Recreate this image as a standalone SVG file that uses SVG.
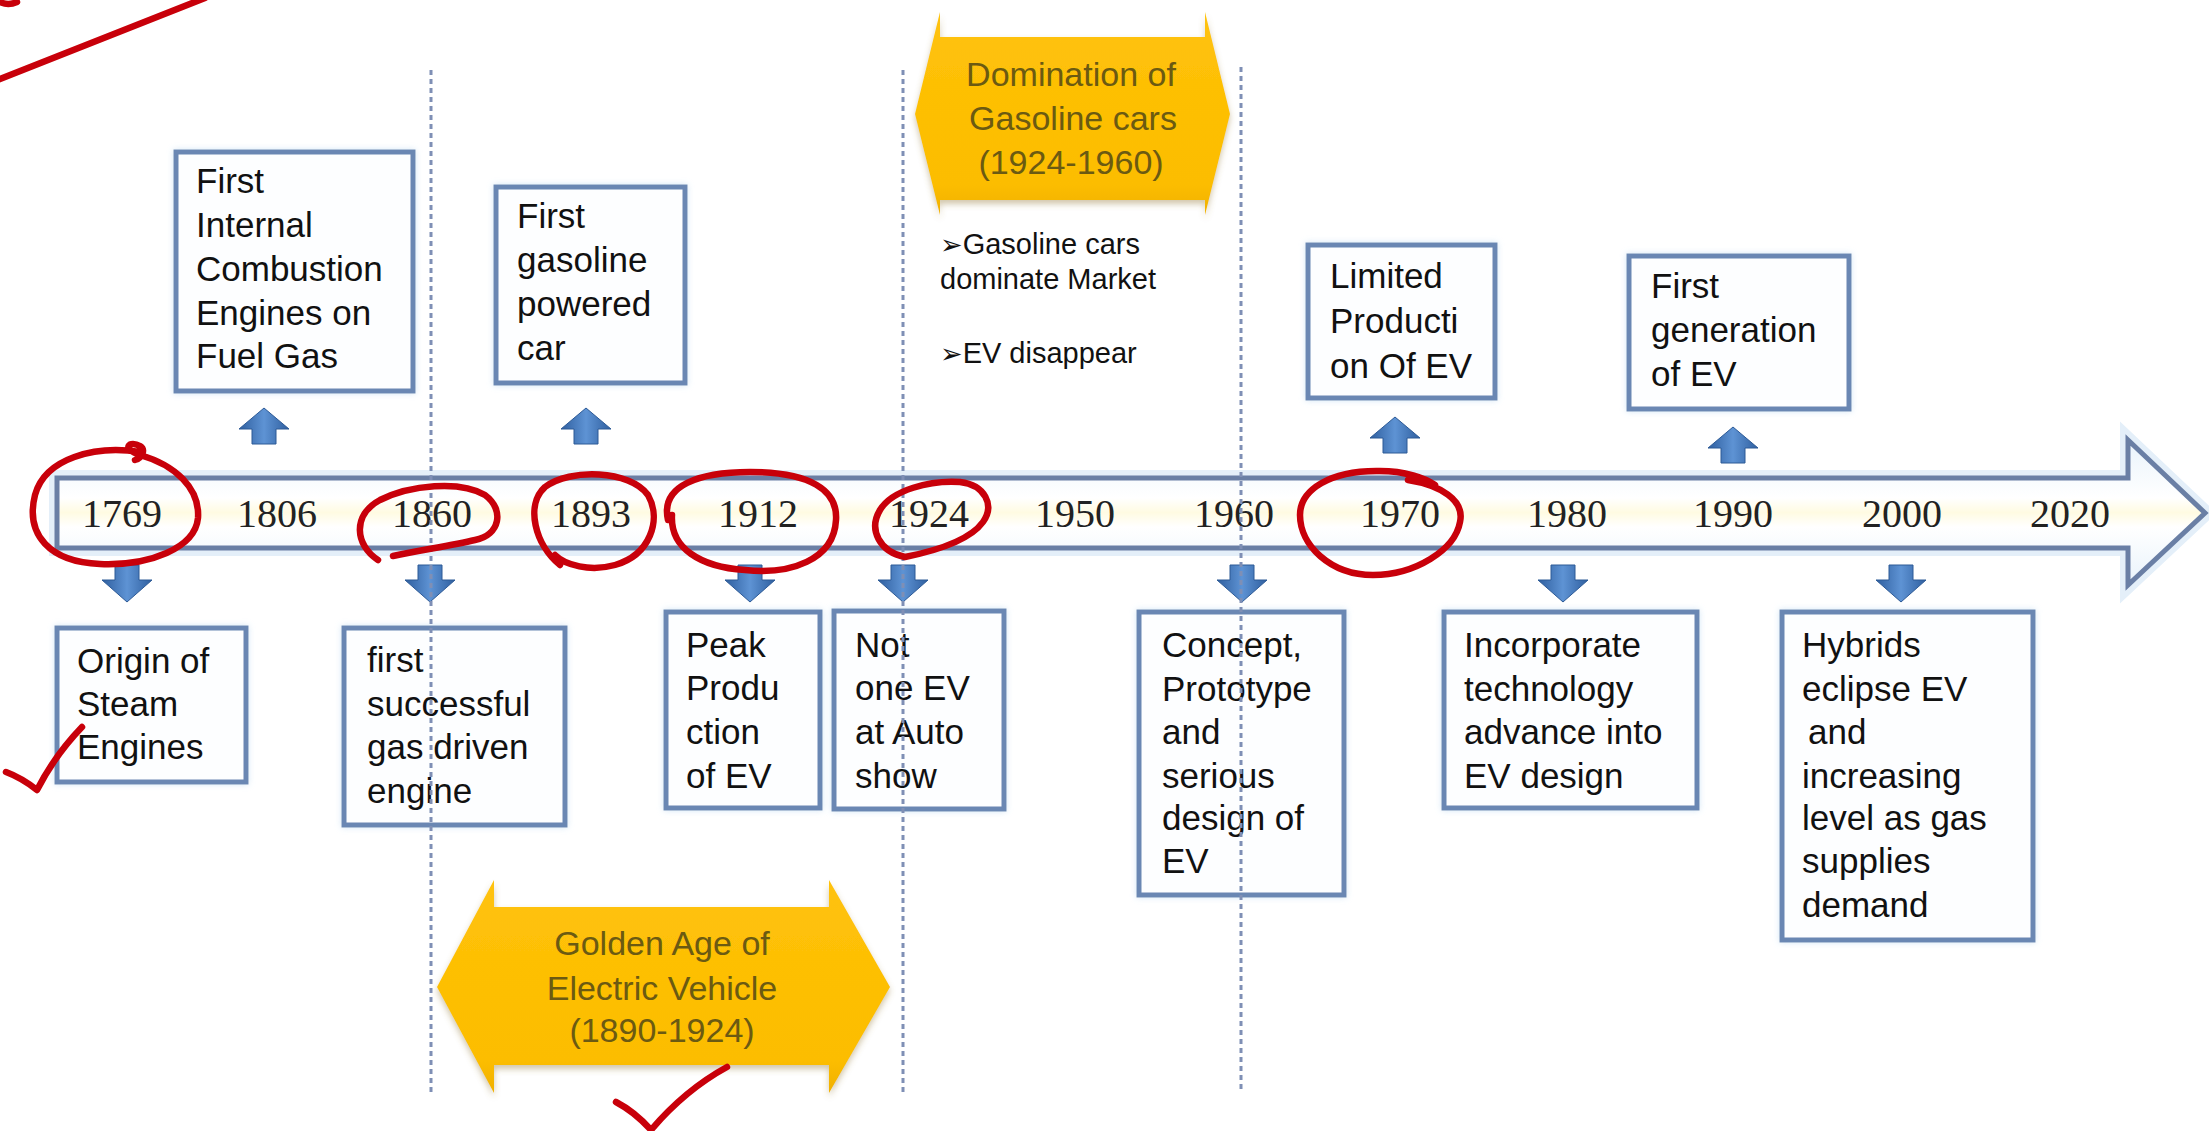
<svg xmlns="http://www.w3.org/2000/svg" xmlns:xlink="http://www.w3.org/1999/xlink" width="2209" height="1131" viewBox="0 0 2209 1131">
<defs>
<style>
.bx{font-family:"Liberation Sans",Arial,sans-serif;font-size:35px;fill:#111}
.yr{font-family:"Liberation Serif","Times New Roman",serif;font-size:40px;fill:#222;text-anchor:middle}
.ban{font-family:"Liberation Sans",Arial,sans-serif;font-size:34px;fill:#6b5a12;text-anchor:middle}
.bul{font-family:"Liberation Sans",Arial,sans-serif;font-size:29px;fill:#111}
.blt{font-family:"DejaVu Sans",sans-serif;font-size:27px}
.box{fill:#fdfeff;stroke:#6a87b3;stroke-width:5;filter:url(#glow)}
.arr{fill:url(#arrG);stroke:#2d5a96;stroke-width:1}
.div{stroke:#7f8fb5;stroke-width:3;stroke-dasharray:5 4;fill:none}
.banner{fill:url(#gold);filter:url(#bshadow)}
.red{fill:none;stroke:#c8000a;stroke-width:6.5;stroke-linecap:round;stroke-linejoin:round}
</style>
<linearGradient id="axisG" x1="0" y1="0" x2="0" y2="1">
<stop offset="0" stop-color="#e9f3fb"/>
<stop offset="0.4" stop-color="#ffffff"/>
<stop offset="0.5" stop-color="#fffbe2"/>
<stop offset="0.6" stop-color="#ffffff"/>
<stop offset="1" stop-color="#e9f3fb"/>
</linearGradient>
<linearGradient id="arrG" x1="0" y1="0" x2="1" y2="0">
<stop offset="0" stop-color="#2f5f9f"/>
<stop offset="0.5" stop-color="#5e93d4"/>
<stop offset="1" stop-color="#2f5f9f"/>
</linearGradient>
<linearGradient id="gold" x1="0" y1="0" x2="0" y2="1">
<stop offset="0" stop-color="#ffc20a"/>
<stop offset="0.85" stop-color="#fcbd00"/>
<stop offset="1" stop-color="#f0b000"/>
</linearGradient>
<filter id="glow" x="-10%" y="-10%" width="120%" height="120%">
<feDropShadow dx="0" dy="0" stdDeviation="3" flood-color="#cfe3f5" flood-opacity="0.9"/>
</filter>
<filter id="bshadow" x="-10%" y="-10%" width="120%" height="130%">
<feDropShadow dx="0" dy="4" stdDeviation="3" flood-color="#9a8040" flood-opacity="0.45"/>
</filter>
<path id="darr" d="M-12,0 H12 V15 H25 L0,37 L-25,15 H-12 Z"/>
<path id="uarr" d="M0,0 L25,21 H12 V36 H-12 V21 H-25 Z"/>
</defs>

<rect x="0" y="0" width="2209" height="1131" fill="#ffffff"/>

<!-- timeline axis -->
<g id="axis">
<path d="M57,478 L2128,478 L2128,440 L2205,513 L2128,585 L2128,548 L57,548 Z" fill="none" stroke="#e4eff9" stroke-width="16" stroke-linejoin="miter"/>
<path d="M57,478 L2128,478 L2128,440 L2205,513 L2128,585 L2128,548 L57,548 Z" fill="url(#axisG)" stroke="#6a7fa5" stroke-width="5" stroke-linejoin="miter"/>
<text class="yr" x="122" y="527">1769</text>
<text class="yr" x="277" y="527">1806</text>
<text class="yr" x="432" y="527">1860</text>
<text class="yr" x="591" y="527">1893</text>
<text class="yr" x="758" y="527">1912</text>
<text class="yr" x="929" y="527">1924</text>
<text class="yr" x="1075" y="527">1950</text>
<text class="yr" x="1234" y="527">1960</text>
<text class="yr" x="1400" y="527">1970</text>
<text class="yr" x="1567" y="527">1980</text>
<text class="yr" x="1733" y="527">1990</text>
<text class="yr" x="1902" y="527">2000</text>
<text class="yr" x="2070" y="527">2020</text>
</g>

<!-- banners -->
<g id="banner-domination">
<path class="banner" d="M915,114 L940,12 L940,37 L1205,37 L1205,12 L1230,114 L1205,215 L1205,200 L940,200 L940,215 Z"/>
<text class="ban" x="1071" y="86">Domination of</text>
<text class="ban" x="1073" y="130">Gasoline cars</text>
<text class="ban" x="1071" y="174">(1924-1960)</text>
</g>
<g id="banner-golden-age">
<path class="banner" d="M437,987 L494,880 L494,907 L829,907 L829,880 L890,987 L829,1093 L829,1065 L494,1065 L494,1093 Z"/>
<text class="ban" x="662" y="955">Golden Age of</text>
<text class="ban" x="662" y="1000">Electric Vehicle</text>
<text class="ban" x="662" y="1042">(1890-1924)</text>
</g>

<g id="bullets">
<text class="bul" x="940" y="254"><tspan class="blt">➢</tspan>Gasoline cars</text>
<text class="bul" x="940" y="289">dominate Market</text>
<text class="bul" x="940" y="363"><tspan class="blt">➢</tspan>EV disappear</text>
</g>

<!-- top boxes -->
<g id="node-1806">
<rect class="box" x="176" y="152" width="237" height="239"/>
<text class="bx"><tspan x="196" y="193">First</tspan><tspan x="196" y="237">Internal</tspan><tspan x="196" y="281">Combustion</tspan><tspan x="196" y="325">Engines on</tspan><tspan x="196" y="368">Fuel Gas</tspan></text>
</g>
<g id="node-1893">
<rect class="box" x="496" y="187" width="189" height="196"/>
<text class="bx"><tspan x="517" y="228">First</tspan><tspan x="517" y="272">gasoline</tspan><tspan x="517" y="316">powered</tspan><tspan x="517" y="360">car</tspan></text>
</g>
<g id="node-1970">
<rect class="box" x="1308" y="245" width="187" height="153"/>
<text class="bx"><tspan x="1330" y="288">Limited</tspan><tspan x="1330" y="333">Producti</tspan><tspan x="1330" y="378">on Of EV</tspan></text>
</g>
<g id="node-1990">
<rect class="box" x="1629" y="256" width="220" height="153"/>
<text class="bx"><tspan x="1651" y="298">First</tspan><tspan x="1651" y="342">generation</tspan><tspan x="1651" y="386">of EV</tspan></text>
</g>

<!-- bottom boxes -->
<g id="node-1769">
<rect class="box" x="57" y="628" width="189" height="154"/>
<text class="bx"><tspan x="77" y="673">Origin of</tspan><tspan x="77" y="716">Steam</tspan><tspan x="77" y="759">Engines</tspan></text>
</g>
<g id="node-1860">
<rect class="box" x="344" y="628" width="221" height="197"/>
<text class="bx"><tspan x="367" y="672">first</tspan><tspan x="367" y="716">successful</tspan><tspan x="367" y="759">gas driven</tspan><tspan x="367" y="803">engine</tspan></text>
</g>
<g id="node-1912">
<rect class="box" x="666" y="612" width="154" height="196"/>
<text class="bx"><tspan x="686" y="657">Peak</tspan><tspan x="686" y="700">Produ</tspan><tspan x="686" y="744">ction</tspan><tspan x="686" y="788">of EV</tspan></text>
</g>
<g id="node-1924">
<rect class="box" x="834" y="611" width="170" height="198"/>
<text class="bx"><tspan x="855" y="657">Not</tspan><tspan x="855" y="700">one EV</tspan><tspan x="855" y="744">at Auto</tspan><tspan x="855" y="788">show</tspan></text>
</g>
<g id="node-1960">
<rect class="box" x="1139" y="612" width="205" height="283"/>
<text class="bx"><tspan x="1162" y="657">Concept,</tspan><tspan x="1162" y="701">Prototype</tspan><tspan x="1162" y="744">and</tspan><tspan x="1162" y="788">serious</tspan><tspan x="1162" y="830">design of</tspan><tspan x="1162" y="873">EV</tspan></text>
</g>
<g id="node-1980">
<rect class="box" x="1444" y="612" width="253" height="196"/>
<text class="bx"><tspan x="1464" y="657">Incorporate</tspan><tspan x="1464" y="701">technology</tspan><tspan x="1464" y="744">advance into</tspan><tspan x="1464" y="788">EV design</tspan></text>
</g>
<g id="node-2000">
<rect class="box" x="1782" y="612" width="251" height="328"/>
<text class="bx"><tspan x="1802" y="657">Hybrids</tspan><tspan x="1802" y="701">eclipse EV</tspan><tspan x="1808" y="744">and</tspan><tspan x="1802" y="788">increasing</tspan><tspan x="1802" y="830">level as gas</tspan><tspan x="1802" y="873">supplies</tspan><tspan x="1802" y="917">demand</tspan></text>
</g>

<!-- connectors -->
<g id="connectors">
<use href="#uarr" class="arr" x="264" y="408"/>
<use href="#uarr" class="arr" x="586" y="408"/>
<use href="#uarr" class="arr" x="1395" y="417"/>
<use href="#uarr" class="arr" x="1733" y="427"/>
<use href="#darr" class="arr" x="127" y="565"/>
<use href="#darr" class="arr" x="430" y="565"/>
<use href="#darr" class="arr" x="750" y="565"/>
<use href="#darr" class="arr" x="903" y="565"/>
<use href="#darr" class="arr" x="1242" y="565"/>
<use href="#darr" class="arr" x="1563" y="565"/>
<use href="#darr" class="arr" x="1901" y="565"/>
</g>

<!-- period dividers -->
<g id="dividers">
<line class="div" x1="431" y1="70" x2="431" y2="1095"/>
<line class="div" x1="903" y1="70" x2="903" y2="1095"/>
<line class="div" x1="1241" y1="67" x2="1241" y2="1092"/>
</g>

<!-- hand-drawn annotations -->
<g id="annotations">
<path class="red" d="M-5,81 Q100,40 205,-2"/>
<path class="red" d="M0,2 Q8,6 17,2"/>
<path class="red" d="M140,452 C95,445 45,458 35,495 C25,535 50,562 100,564 C150,566 195,548 198,518 C200,488 175,465 140,455 C120,448 130,440 140,446 C146,450 142,458 135,460"/>
<path class="red" d="M378,560 C355,545 352,515 380,500 C410,485 460,480 485,495 C505,510 500,535 475,540 C450,546 420,550 393,556"/>
<path class="red" d="M560,565 C535,545 525,505 545,487 C570,468 630,470 648,495 C662,520 650,555 615,565 C590,572 565,565 555,555"/>
<path class="red" d="M668,520 C660,485 700,472 750,472 C810,472 838,490 836,520 C834,560 790,575 745,570 C700,567 670,548 672,515"/>
<path class="red" d="M905,557 C880,552 868,530 880,510 C892,490 930,480 960,482 C985,485 995,505 983,522 C970,540 940,550 905,557"/>
<path class="red" d="M1408,480 C1440,485 1465,500 1460,522 C1455,550 1415,575 1373,575 C1330,575 1300,545 1300,515 C1300,490 1330,470 1380,471 C1405,471 1425,478 1435,485"/>
<path class="red" d="M6,772 Q22,778 37,790 Q55,755 82,727"/>
<path class="red" d="M616,1102 Q635,1112 651,1130 Q685,1090 727,1067"/>
</g>
</svg>
